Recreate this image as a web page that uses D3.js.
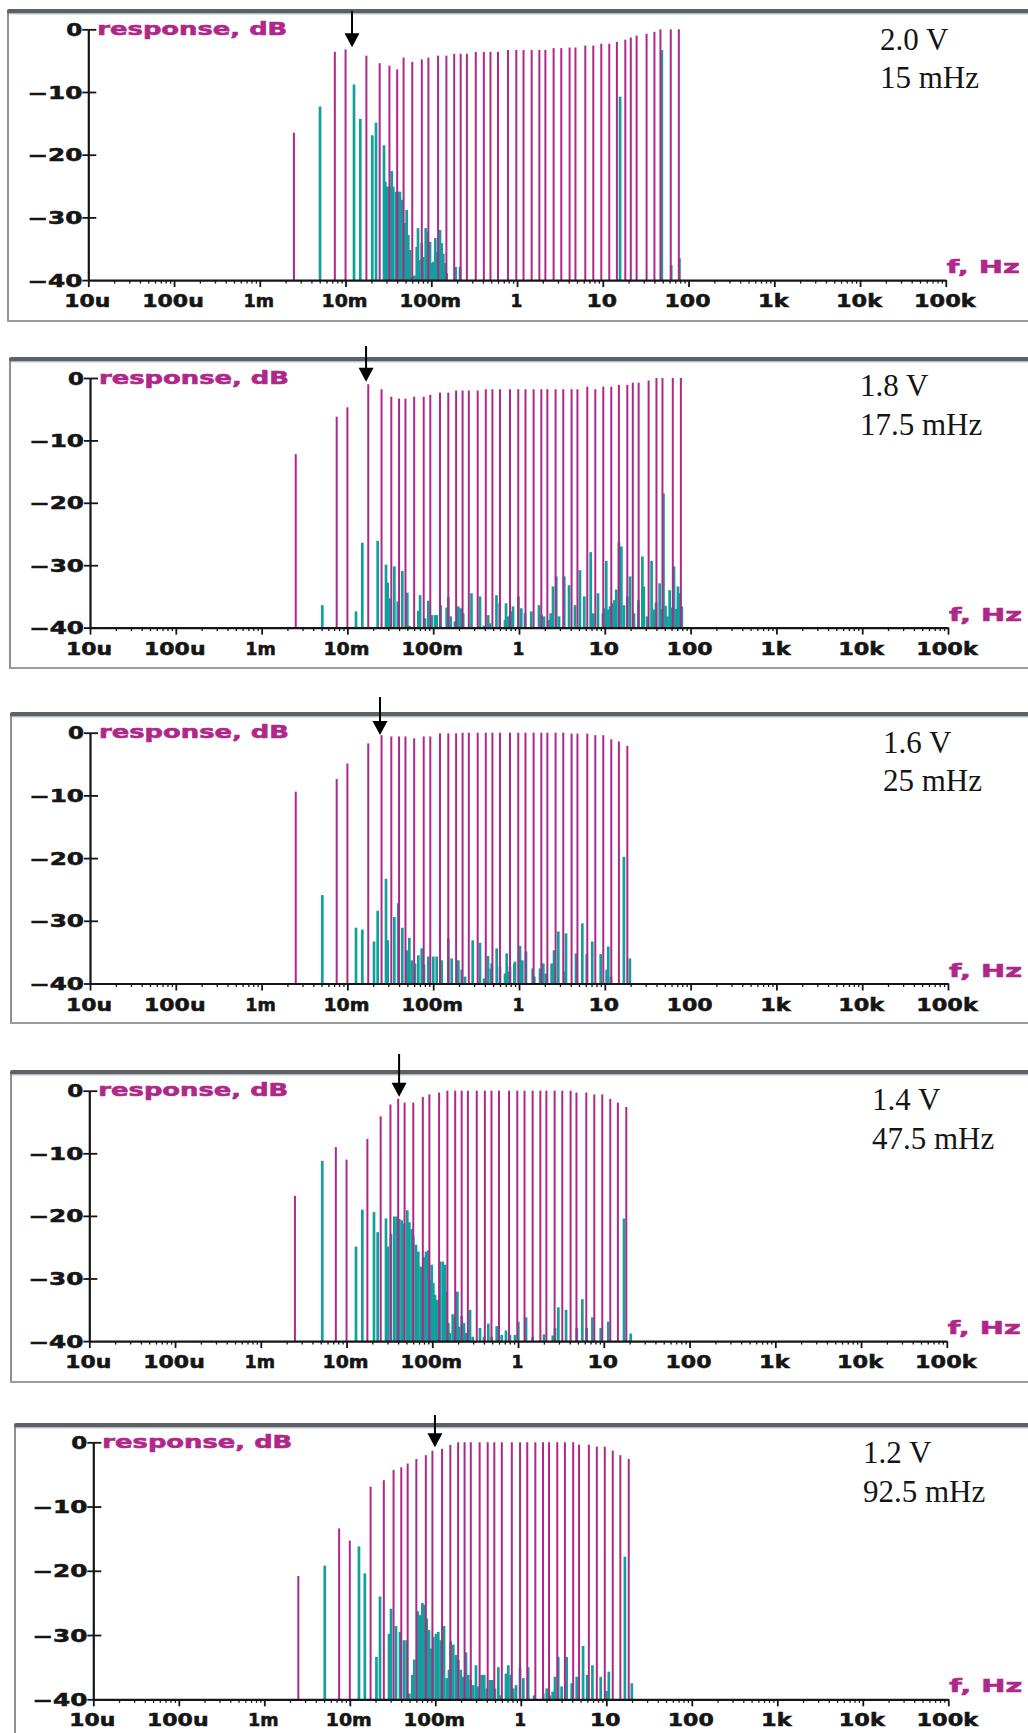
<!DOCTYPE html>
<html><head><meta charset="utf-8">
<script src="https://cdn.jsdelivr.net/npm/d3@7"></script>
<style>body{margin:0;background:#fff}svg{display:block}</style>
</head><body><svg id="c" width="1028" height="1733"></svg>
<script>
// ---------------- DATA ----------------
// stimulus (probe) frequencies, Hz
const stimFreqs = [0.0025,0.0075,0.01,0.0175,0.025,0.0325,0.04,0.0475,0.06,0.0775,0.0925,0.12,0.15,0.185,0.22,0.26,0.33,0.41,0.49,0.6,0.785,0.98,1.19,1.48,1.82,2.14,2.67,3.28,4.1,4.8,6.25,7.75,9.6,11.9,14.6,18.3,21.2,24.8,32.4,40,47,62,77];

// response at the stimulus frequencies, dB (magenta)
const resp20V = [-16.5,-3.6,-3.2,-4.2,-5.4,-5.8,-6.4,-4.5,-5.2,-4.8,-4.5,-4.2,-4.2,-3.9,-3.9,-3.9,-3.6,-3.6,-3.6,-3.6,-3.3,-3.3,-3.3,-3.3,-3.3,-3.3,-3.0,-3.0,-2.9,-2.9,-2.6,-2.6,-2.3,-2.3,-2.0,-1.65,-1.3,-1.0,-0.7,-0.4,0,0,0];
const resp18V = [-12.2,-6.2,-4.7,-1.0,-1.8,-3.0,-3.3,-3.3,-3.0,-3.0,-2.7,-2.35,-2.35,-2.0,-2.0,-2.0,-2.0,-1.8,-1.8,-1.8,-1.8,-1.8,-1.8,-1.8,-1.8,-1.8,-1.8,-1.8,-1.8,-1.8,-1.4,-1.8,-1.4,-1.4,-1.1,-1.1,-0.75,-0.75,-0.4,0,0,0,0];
const resp16V = [-9.4,-7.4,-4.9,-1.7,-0.4,-0.6,-0.6,-0.6,-0.9,-0.6,-0.6,-0.1,-0.1,-0.1,0,0,0,0,0,0,0,0,0,0,0,0,0,0,-0.15,-0.15,-0.15,-0.4,-0.4,-1.05,-1.4,-2.1];
const resp14V = [-16.8,-9.0,-11.0,-7.7,-4.1,-2.2,-1.3,-1.9,-1.9,-1.0,-0.6,-0.3,0,0,0,0,0,0,0,0,0,0,0,0,0,0,0,0,0,-0.3,-0.3,-0.6,-0.6,-1.3,-1.9,-2.6];
const resp12V = [-20.8,-13.4,-15.3,-6.9,-5.9,-4.3,-3.9,-3.3,-2.6,-2.0,-1.3,-1.0,-0.4,0,0,0,0,0,0,0,0,0,0,0,0,0,0,0,0,-0.36,-0.36,-0.67,-0.67,-1.3,-2.0,-2.6];

// distortion / intermodulation products [Hz, dB] (teal)
const dist20V = [[0.00504,-12.3],[0.01255,-8.8],[0.01486,-14.3],[0.0205,-16.9],[0.02265,-14.9],[0.0281,-18.5],[0.0291,-24.3],[0.0307,-25.1],[0.0324,-25.1],[0.0345,-22.6],[0.036,-25.1],[0.0387,-25.9],[0.0412,-25.9],[0.0431,-25.9],[0.0452,-27.2],[0.0464,-30.9],[0.0493,-30.9],[0.0516,-28.8],[0.0539,-32.8],[0.0565,-35.2],[0.0591,-39.5],[0.0617,-39.3],[0.0646,-39.3],[0.0676,-34.7],[0.07,-31.7],[0.0726,-36.8],[0.0774,-34.1],[0.0807,-36.3],[0.0861,-31.7],[0.0899,-32.3],[0.0933,-34.1],[0.0966,-33.9],[0.1011,-37.3],[0.1055,-37.1],[0.1114,-33.3],[0.1156,-35.5],[0.1207,-35.8],[0.1263,-32.0],[0.1322,-34.1],[0.138,-35.8],[0.1445,-37.3],[0.1512,-38.9],[0.1926,-37.9],[0.2162,-37.9],[15.9,-10.75],[48.8,-3.3],[62.8,-37.6],[78.3,-36.5]];
const dist18V = [[0.0051,-36.4],[0.0126,-37.4],[0.01492,-26.4],[0.02254,-26.1],[0.02818,-29.9],[0.0295,-32.8],[0.0313,-35.3],[0.03524,-30.2],[0.0386,-35.8],[0.04365,-30.9],[0.0499,-34.4],[0.0527,-39.7],[0.0671,-37.3],[0.0703,-34.8],[0.0803,-38.5],[0.0877,-35.7],[0.096,-38.0],[0.1049,-38.0],[0.1099,-38.0],[0.1223,-36.4],[0.1436,-36.8],[0.15,-35.1],[0.16,-38.2],[0.1793,-39.0],[0.196,-36.6],[0.2089,-36.9],[0.2237,-37.7],[0.2793,-34.5],[0.351,-35.0],[0.3931,-39.7],[0.4373,-38.0],[0.4572,-39.3],[0.5461,-34.8],[0.596,-36.1],[0.687,-38.8],[0.7058,-36.1],[0.7524,-38.2],[0.8232,-37.4],[0.851,-36.6],[0.983,-35.0],[1.064,-36.9],[1.175,-37.7],[1.39,-37.4],[1.71,-36.4],[1.84,-38.0],[1.955,-38.2],[2.236,-38.8],[2.34,-37.7],[2.49,-33.4],[2.72,-31.8],[2.93,-38.2],[3.37,-31.8],[3.83,-33.2],[4.49,-36.4],[5.13,-30.8],[5.77,-35.0],[6.85,-27.9],[7.34,-37.7],[8.33,-34.5],[9.51,-37.7],[9.85,-36.9],[10.4,-29.3],[10.9,-37.1],[11.5,-36.6],[12.3,-36.1],[12.95,-35.6],[13.6,-33.9],[14.6,-26.3],[15.6,-27.0],[16.7,-36.4],[18.3,-35.0],[19.7,-31.8],[21.9,-37.7],[24.6,-35.6],[27.4,-28.6],[28.5,-33.4],[31.1,-38.2],[35.1,-29.3],[37.3,-37.1],[39.5,-36.0],[43.6,-32.9],[46,-37.0],[48.3,-18.5],[51,-36.5],[53.6,-38.2],[57,-34.0],[60,-36.8],[64.1,-30.2],[67.5,-37.0],[71.2,-33.4],[75,-34.5],[79,-36.6]];
const dist16V = [[0.0051,-25.9],[0.0126,-31.1],[0.01492,-31.4],[0.02042,-33.3],[0.02254,-28.4],[0.02818,-23.3],[0.0295,-33.1],[0.03524,-29.4],[0.0392,-27.2],[0.04365,-31.1],[0.0499,-34.7],[0.0527,-32.7],[0.0561,-36.3],[0.0614,-36.8],[0.0671,-35.5],[0.0735,-34.4],[0.0781,-37.0],[0.0877,-35.7],[0.1003,-35.7],[0.1099,-35.7],[0.1257,-36.3],[0.15,-32.8],[0.1643,-36.0],[0.1963,-36.3],[0.2149,-37.8],[0.2349,-38.9],[0.2886,-33.1],[0.351,-33.5],[0.391,-39.2],[0.435,-35.6],[0.468,-37.6],[0.4806,-36.8],[0.5496,-34.4],[0.601,-37.3],[0.687,-38.4],[0.719,-35.2],[0.771,-38.1],[0.786,-37.3],[0.882,-36.8],[0.898,-36.5],[1.027,-34.0],[1.093,-36.3],[1.206,-34.9],[1.444,-37.6],[1.508,-38.9],[1.757,-37.6],[1.92,-36.8],[2.05,-38.4],[2.4,-36.8],[2.56,-34.7],[2.87,-31.7],[3.44,-38.1],[3.53,-32.0],[4.62,-35.2],[5.47,-30.4],[6.16,-35.3],[7.14,-33.3],[8.96,-35.3],[10.5,-37.8],[10.97,-34.1],[11.8,-38.9],[16.7,-19.8],[19.6,-36.0]];
const dist14V = [[0.00521,-11.2],[0.01289,-24.9],[0.01527,-19.0],[0.0209,-19.4],[0.02307,-22.6],[0.02884,-20.4],[0.0302,-24.9],[0.03297,-22.9],[0.03606,-20.1],[0.03846,-20.1],[0.04122,-20.5],[0.04397,-20.7],[0.04677,-21.2],[0.05109,-19.1],[0.05393,-21.0],[0.05754,-22.1],[0.06004,-23.3],[0.06452,-24.6],[0.06866,-25.7],[0.0732,-28.1],[0.0773,-30.2],[0.08,-26.6],[0.0845,-25.7],[0.0898,-25.5],[0.094,-30.2],[0.0984,-27.8],[0.1028,-30.7],[0.1075,-32.6],[0.1143,-33.4],[0.123,-27.3],[0.1322,-27.3],[0.1406,-27.8],[0.1472,-32.1],[0.1538,-37.1],[0.1608,-38.7],[0.173,-35.7],[0.184,-36.1],[0.196,-32.1],[0.2066,-37.7],[0.2203,-36.0],[0.2343,-37.1],[0.2472,-38.7],[0.2754,-35.0],[0.296,-39.3],[0.36,-37.9],[0.401,-39.3],[0.45,-37.2],[0.493,-39.3],[0.564,-37.6],[0.645,-39.0],[0.723,-38.3],[0.805,-39.0],[0.921,-39.0],[1.007,-36.9],[1.24,-36.2],[1.48,-39.3],[2.01,-38.9],[2.54,-39.1],[2.7,-37.9],[2.95,-34.6],[3.63,-35.0],[4.84,-37.9],[5.62,-33.3],[6.32,-37.9],[7.36,-36.2],[9.21,-37.9],[11.3,-36.9],[17.2,-20.4],[20.6,-38.8]];
const dist12V = [[0.0051,-19.2],[0.0128,-16.2],[0.015,-20.4],[0.0205,-33.4],[0.02255,-24.0],[0.02875,-29.8],[0.03034,-25.9],[0.0347,-28.6],[0.03865,-29.5],[0.04305,-30.8],[0.0463,-30.8],[0.0497,-39.1],[0.0538,-36.2],[0.0568,-33.8],[0.0622,-26.3],[0.0662,-26.9],[0.0705,-25.0],[0.0738,-25.3],[0.0793,-27.4],[0.0844,-29.2],[0.0891,-32.1],[0.0948,-30.3],[0.1019,-29.8],[0.1084,-29.5],[0.1156,-30.8],[0.1265,-28.6],[0.1359,-36.7],[0.1445,-35.4],[0.1514,-31.0],[0.1624,-31.5],[0.1746,-33.1],[0.1858,-33.9],[0.1982,-35.4],[0.2125,-36.5],[0.2285,-32.7],[0.243,-36.2],[0.2594,-37.0],[0.278,-37.8],[0.299,-34.7],[0.318,-38.0],[0.349,-36.2],[0.374,-36.2],[0.399,-38.3],[0.436,-37.0],[0.465,-37.0],[0.499,-38.3],[0.546,-35.0],[0.582,-39.4],[0.671,-36.0],[0.714,-34.7],[0.762,-36.2],[0.817,-38.3],[0.879,-37.8],[0.979,-35.0],[1.07,-36.7],[1.22,-35.0],[1.43,-39.4],[1.83,-39.1],[2.01,-38.3],[2.19,-39.4],[2.36,-38.8],[2.51,-36.5],[2.74,-33.4],[3.0,-38.0],[3.44,-33.4],[3.94,-37.5],[4.51,-36.5],[5.35,-31.7],[5.97,-36.2],[6.88,-34.7],[8.6,-36.5],[10.06,-38.7],[10.7,-35.7],[16.5,-17.8],[19.9,-37.5]];

const voltLabels   = ["2.0 V","1.8 V","1.6 V","1.4 V","1.2 V"];
const cutoffLabels = ["15 mHz","17.5 mHz","25 mHz","47.5 mHz","92.5 mHz"];
const arrowFreqs   = [0.0119,0.0165,0.024,0.041,0.099];

const xTickVals   = [1e-5,1e-4,1e-3,1e-2,1e-1,1,10,100,1e3,1e4,1e5];
const xTickLabels = ["10u","100u","1m","10m","100m","1","10","100","1k","10k","100k"];
const yTickVals   = [0,-10,-20,-30,-40];
const yTickLabels = ["0","\u221210","\u221220","\u221230","\u221240"];

// ---------------- LAYOUT ----------------
const layout = [
  {fx:7,  ft:9,    fb:321,  x0:88.3, dec:85.75, y0:29.3,   dbPx:6.27,  tx:880,  t1:50,     t2:88,     aTop:11,   aTip:47.3},
  {fx:9,  ft:357,  fb:668,  x0:90,   dec:85.8,  y0:378,    dbPx:6.24,  tx:860,  t1:395.7,  t2:435,    aTop:346,  aTip:381.7},
  {fx:10, ft:712,  fb:1023, x0:90,   dec:85.8,  y0:732.7,  dbPx:6.27,  tx:883,  t1:753,    t2:791,    aTop:697,  aTip:735},
  {fx:10, ft:1070, fb:1382, x0:89.3, dec:85.75, y0:1090.7, dbPx:6.26,  tx:872,  t1:1110,   t2:1149,   aTop:1054, aTip:1096.7},
  {fx:14, ft:1423, fb:1760, x0:93.3, dec:85.5,  y0:1442.3, dbPx:6.425, tx:863,  t1:1463.3, t2:1501.7, aTop:1415, aTip:1447.3}
];
const respSets = [resp20V, resp18V, resp16V, resp14V, resp12V];
const distSets = [dist20V, dist18V, dist16V, dist14V, dist12V];

const MAG = "#b0278a", TEAL = "#12a09b", AX = "#151515";
const FONT = "'DejaVu Sans', Verdana, sans-serif";

const svg = d3.select("#c");
svg.append("rect").attr("width",1028).attr("height",1733).attr("fill","#fff");

// minor ticks
const minorTicks = [];
for (let e = -5; e < 5; e++) for (let k = 2; k <= 9; k++) minorTicks.push(k * Math.pow(10, e));

function stretchedText(g, str, xStart, yBase, len, size, color) {
  const t = g.append("text").attr("x", xStart).attr("y", yBase)
    .attr("font-family", FONT).attr("font-weight", "bold").attr("font-size", size)
    .attr("fill", color).attr("stroke", color).attr("stroke-width", 0.55).text(str);
  if (len) t.attr("textLength", len).attr("lengthAdjust", "spacingAndGlyphs");
  return t;
}

layout.forEach((L, i) => {
  const g = svg.append("g");
  const x = d3.scaleLog().domain([1e-5, 1e5]).range([L.x0, L.x0 + 10 * L.dec]);
  const y = d3.scaleLinear().domain([0, -40]).range([L.y0, L.y0 + 40 * L.dbPx]);
  const yb = y(-40);

  // frame
  g.append("line").attr("x1", L.fx + 1).attr("x2", L.fx + 1).attr("y1", L.ft + 2).attr("y2", L.fb)
    .attr("stroke", "#8e9092").attr("stroke-width", 2);
  g.append("line").attr("x1", L.fx).attr("x2", 1030).attr("y1", L.fb).attr("y2", L.fb)
    .attr("stroke", "#9a9c9e").attr("stroke-width", 2);
  g.append("rect").attr("x", L.fx).attr("y", L.ft).attr("width", 1040 - L.fx).attr("height", 4.5)
    .attr("rx", 2).attr("fill", "#5b6166");
  g.append("line").attr("x1", L.fx + 2).attr("x2", 1030).attr("y1", L.ft + 5).attr("y2", L.ft + 5)
    .attr("stroke", "#c3c7ca").attr("stroke-width", 1);

  // teal distortion lines
  g.append("g").selectAll("line").data(distSets[i]).join("line")
    .attr("x1", d => x(d[0])).attr("x2", d => x(d[0]))
    .attr("y1", yb).attr("y2", d => y(d[1]))
    .attr("stroke", TEAL).attr("stroke-width", 2.7);

  // magenta response lines
  const resp = respSets[i];
  g.append("g").selectAll("line").data(resp.map((v, k) => [stimFreqs[k], v])).join("line")
    .attr("x1", d => x(d[0])).attr("x2", d => x(d[0]))
    .attr("y1", yb).attr("y2", d => y(d[1]))
    .attr("stroke", MAG).attr("stroke-width", 2);

  // x axis (major + minor ticks)
  const gx = g.append("g").attr("transform", `translate(0,${yb})`)
    .call(d3.axisBottom(x).tickValues(xTickVals).tickSize(7).tickSizeOuter(0).tickFormat(""));
  gx.select(".domain").attr("stroke", AX).attr("stroke-width", 2.2);
  gx.selectAll(".tick line").attr("stroke", AX).attr("stroke-width", 1.8);
  const gm = g.append("g").attr("transform", `translate(0,${yb})`)
    .call(d3.axisBottom(x).tickValues(minorTicks).tickSize(3.5).tickSizeOuter(0).tickFormat(""));
  gm.select(".domain").remove();
  gm.selectAll(".tick line").attr("stroke", AX).attr("stroke-width", 1.3);

  // y axis
  const gy = g.append("g").attr("transform", `translate(${L.x0},0)`)
    .call(d3.axisLeft(y).tickValues(yTickVals).tickSize(6).tickSizeOuter(0).tickFormat(""));
  gy.select(".domain").attr("stroke", AX).attr("stroke-width", 2.2);
  gy.selectAll(".tick line").attr("stroke", AX).attr("stroke-width", 1.8);
  const gyr = g.append("g").attr("transform", `translate(${L.x0},0)`)
    .call(d3.axisRight(y).tickValues(yTickVals.slice(0, 4)).tickSize(8).tickSizeOuter(0).tickFormat(""));
  gyr.select(".domain").remove();
  gyr.selectAll(".tick line").attr("stroke", AX).attr("stroke-width", 1.8);

  // tick labels
  xTickVals.forEach((v, k) => {
    const s = xTickLabels[k];
    const len = s.length === 1 ? null : 15.5 * s.length - 0.5;
    const w = len || 11;
    stretchedText(g, s, x(v) - 1 - w / 2, yb + 27, len, 17, AX);
  });
  yTickVals.forEach((v, k) => {
    const s = yTickLabels[k];
    const len = s.length === 1 ? 16 : 55;
    stretchedText(g, s, L.x0 - 6 - len, y(v) + 6.5, len, 17, AX);
  });

  // axis titles
  stretchedText(g, "response,  dB", L.x0 + 9, L.y0 + 5.5, 190, 17, MAG);
  stretchedText(g, "f,  Hz", x(1e5) + 1, yb - 7, 73, 17, MAG);

  // annotation text
  g.append("text").attr("x", L.tx).attr("y", L.t1).attr("font-family", "'Liberation Serif','Times New Roman',serif")
    .attr("font-size", 31).attr("fill", "#151515").text(voltLabels[i]);
  g.append("text").attr("x", L.tx).attr("y", L.t2).attr("font-family", "'Liberation Serif','Times New Roman',serif")
    .attr("font-size", 31).attr("fill", "#151515").text(cutoffLabels[i]);

  // arrow marking the cutoff
  const ax = x(arrowFreqs[i]);
  g.append("line").attr("x1", ax).attr("x2", ax).attr("y1", L.aTop).attr("y2", L.aTip - 12)
    .attr("stroke", "#000").attr("stroke-width", 2);
  g.append("path").attr("d", `M${ax - 7.5},${L.aTip - 14} L${ax + 7.5},${L.aTip - 14} L${ax},${L.aTip} Z`)
    .attr("fill", "#000");
});
</script></body></html>
